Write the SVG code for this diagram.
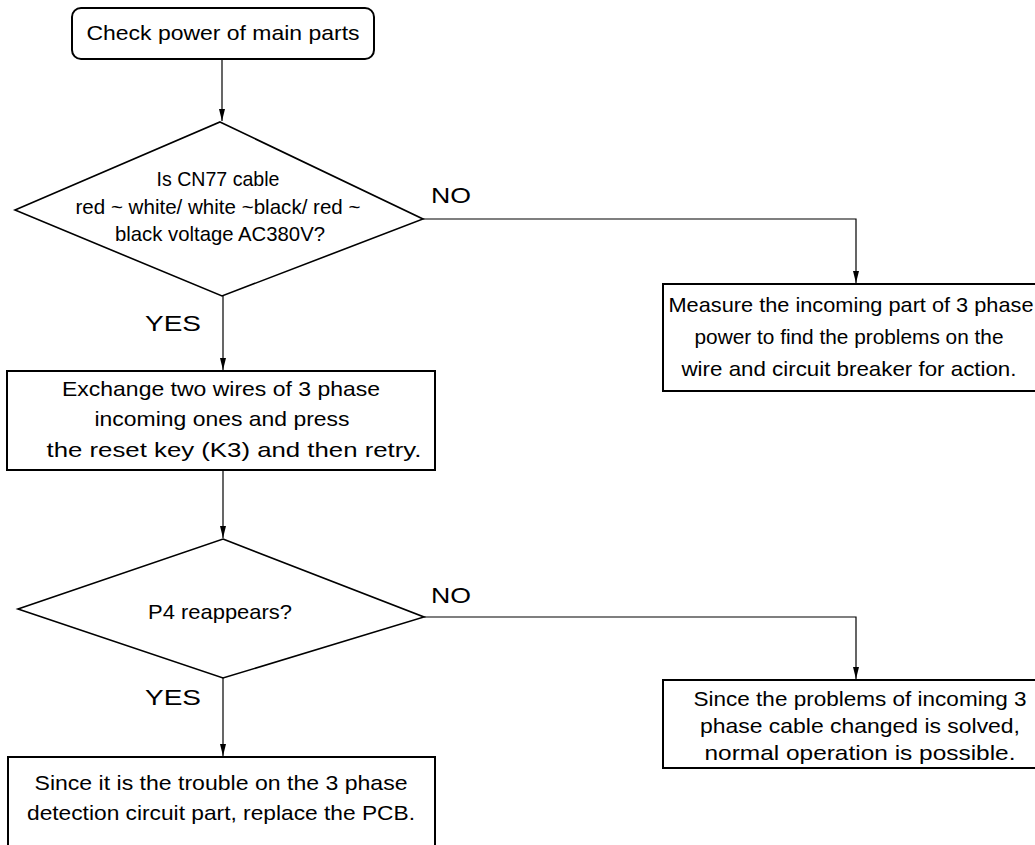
<svg xmlns="http://www.w3.org/2000/svg" width="1035" height="845" viewBox="0 0 1035 845">
<defs>
<style>
.box{fill:#fff;stroke:#000;stroke-width:2}
.dia{fill:#fff;stroke:#000;stroke-width:1.6}
.t{font-family:"Liberation Sans",Arial,sans-serif;font-size:21px;fill:#000;text-anchor:middle}
.lbl{font-family:"Liberation Sans",Arial,sans-serif;font-size:22px;fill:#000}
.c{fill:none;stroke:#000;stroke-width:1.2}
</style>
<marker id="arr" markerUnits="userSpaceOnUse" markerWidth="12" markerHeight="8" viewBox="0 0 12 8" refX="12" refY="4" orient="auto">
<path d="M0,1 L12,4 L0,7 Z" fill="#000"/>
</marker>
</defs>
<rect width="1035" height="845" fill="#fff"/>
<g id="connectors">
<path class="c" d="M222,59 V121" marker-end="url(#arr)"/>
<path class="c" d="M423,219 H856 V283" marker-end="url(#arr)"/>
<path class="c" d="M223,296 V370" marker-end="url(#arr)"/>
<path class="c" d="M223,470 V538" marker-end="url(#arr)"/>
<path class="c" d="M424,617 H856 V679" marker-end="url(#arr)"/>
<path class="c" d="M223,678 V756" marker-end="url(#arr)"/>
<text class="lbl" x="431" y="203" textLength="40" lengthAdjust="spacingAndGlyphs">NO</text>
<text class="lbl" x="145" y="331" textLength="56" lengthAdjust="spacingAndGlyphs">YES</text>
<text class="lbl" x="431" y="603" textLength="40" lengthAdjust="spacingAndGlyphs">NO</text>
<text class="lbl" x="145" y="705" textLength="56" lengthAdjust="spacingAndGlyphs">YES</text>
</g>
<g id="start">
<rect class="box" x="72" y="8" width="302" height="51" rx="9"/>
<text class="t" x="223" y="40" textLength="273" lengthAdjust="spacingAndGlyphs">Check power of main parts</text>
</g>
<g id="decision1">
<polygon class="dia" points="220,122 423,219 222,296 15,210"/>
<text class="t" x="218" y="186" textLength="123" lengthAdjust="spacingAndGlyphs">Is CN77 cable</text>
<text class="t" x="218" y="214" textLength="285" lengthAdjust="spacingAndGlyphs">red ~ white/ white ~black/ red ~</text>
<text class="t" x="220" y="241" textLength="210" lengthAdjust="spacingAndGlyphs">black voltage AC380V?</text>
</g>
<g id="measure">
<rect class="box" x="663" y="284" width="380" height="107"/>
<text class="t" x="851" y="312" textLength="365" lengthAdjust="spacingAndGlyphs">Measure the incoming part of 3 phase</text>
<text class="t" x="849" y="344" textLength="309" lengthAdjust="spacingAndGlyphs">power to find the problems on the</text>
<text class="t" x="849" y="376" textLength="335" lengthAdjust="spacingAndGlyphs">wire and circuit breaker for action.</text>
</g>
<g id="exchange">
<rect class="box" x="7" y="371" width="428" height="99"/>
<text class="t" x="221" y="396" textLength="318" lengthAdjust="spacingAndGlyphs">Exchange two wires of 3 phase</text>
<text class="t" x="222" y="426" textLength="255" lengthAdjust="spacingAndGlyphs">incoming ones and press</text>
<text class="t" x="234" y="457" textLength="375" lengthAdjust="spacingAndGlyphs">the reset key (K3) and then retry.</text>
</g>
<g id="decision2">
<polygon class="dia" points="223,539 424,617 223,678 18,609"/>
<text class="t" x="220" y="619" textLength="144" lengthAdjust="spacingAndGlyphs">P4 reappears?</text>
</g>
<g id="solved">
<rect class="box" x="663" y="680" width="380" height="88"/>
<text class="t" x="860" y="706" textLength="333" lengthAdjust="spacingAndGlyphs">Since the problems of incoming 3</text>
<text class="t" x="860" y="733" textLength="320" lengthAdjust="spacingAndGlyphs">phase cable changed is solved,</text>
<text class="t" x="860" y="760" textLength="311" lengthAdjust="spacingAndGlyphs">normal operation is possible.</text>
</g>
<g id="replace">
<rect class="box" x="8" y="757" width="427" height="100"/>
<text class="t" x="221" y="790" textLength="373" lengthAdjust="spacingAndGlyphs">Since it is the trouble on the 3 phase</text>
<text class="t" x="221" y="820" textLength="388" lengthAdjust="spacingAndGlyphs">detection circuit part, replace the PCB.</text>
</g>
</svg>
